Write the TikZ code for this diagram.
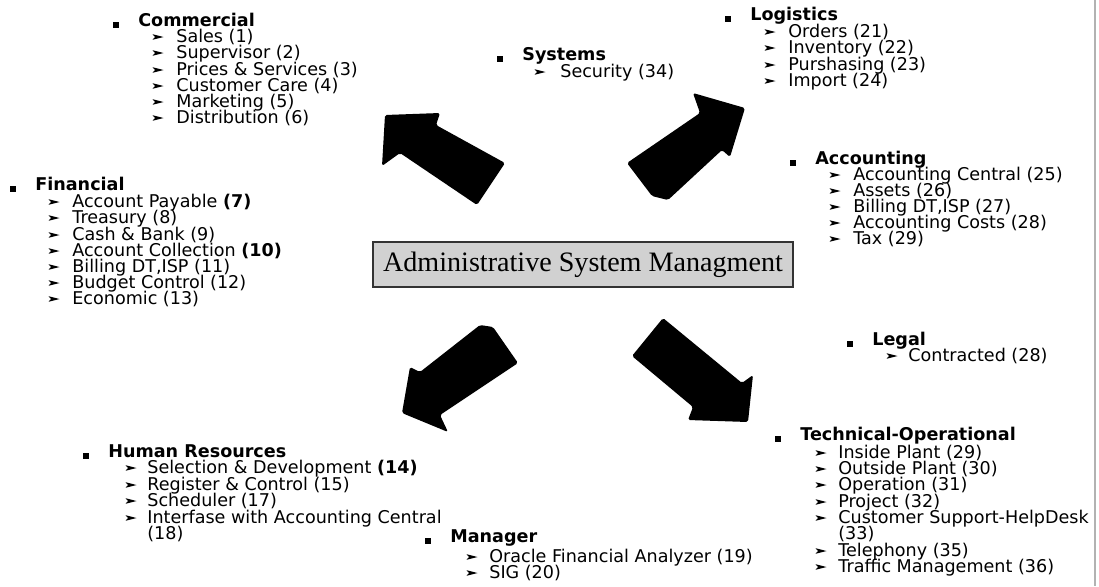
\documentclass[tikz,border=0pt]{standalone}
\usepackage{fontspec}
\setmainfont{DejaVu Sans}
\newfontfamily\titlefont{Liberation Serif}
\begin{document}
\begin{tikzpicture}[x=0.02cm,y=-0.02cm,
    hd/.style={anchor=west,inner sep=0pt,font=\bfseries,text height=7.8pt,text depth=1.6pt},
    it/.style={anchor=west,inner sep=0pt,text height=7.8pt,text depth=1.6pt},
    itemtip/.pic={\fill (-5.5,-2.8) -- (5.5,0) -- (-5.5,2.8) -- (-3,0) -- cycle;},
    bigarrow/.style={fill=black,rounded corners=1pt}]
\useasboundingbox (0,0) rectangle (1099,586);
\draw[gray!60,line width=0.6pt] (1095,0) -- (1095,586);
% centre
\node[draw=black!80,line width=1pt,fill=black!18,minimum width=8.4cm,minimum height=0.9cm,inner sep=0pt,
      font=\titlefont\fontsize{16}{19}\selectfont] (asm) at (583,264.5) {Administrative System Managment};
% the four block arrows
\fill[bigarrow] (385,115) -- (440,113) -- (436,125) -- (505,163) -- (477,205) -- (400,153) -- (382,166) -- cycle;
\fill[bigarrow] (693,93) -- (745,108) -- (730,157) -- (722,150) -- (668,200) -- (652,196) -- (627,163) -- (700,113) -- cycle;
\fill[bigarrow] (480,325) -- (493,327) -- (518,363) -- (440,415) -- (448,432) -- (402,413) -- (410,367) -- (420,372) -- cycle;
\fill[bigarrow] (663,318) -- (632,356) -- (693,407) -- (688,420) -- (748,422) -- (753,375) -- (742,383) -- cycle;
% Commercial
\node[hd] (com) at (138,21) {Commercial};
\foreach \y/\lbl [count=\i] in {37/Sales (1),53/Supervisor (2),70/Prices \& Services (3),
        86/Customer Care (4),102/Marketing (5),118/Distribution (6)}{
    \pic at (158,\y) {itemtip};
    \node[it] (com\i) at (176,\y) {\lbl};}
% Systems
\node[hd] (sys) at (522,55) {Systems};
\pic at (540,72) {itemtip};
\node[it] (sys1) at (560,72) {Security (34)};
% Logistics
\node[hd] (log) at (750,15) {Logistics};
\foreach \y/\lbl [count=\i] in {32/Orders (21),48/Inventory (22),65/Purshasing (23),81/Import (24)}{
    \pic at (770,\y) {itemtip};
    \node[it] (log\i) at (788,\y) {\lbl};}
% Accounting
\node[hd] (acc) at (815,159) {Accounting};
\foreach \y/\lbl [count=\i] in {175/Accounting Central (25),191/Assets (26),{207/Billing DT,ISP (27)},
        223/Accounting Costs (28),239/Tax (29)}{
    \pic at (835,\y) {itemtip};
    \node[it] (acc\i) at (853,\y) {\lbl};}
% Financial
\node[hd] (fin) at (35,185) {Financial};
\foreach \y/\lbl [count=\i] in {202/Account Payable \textbf{(7)},218/Treasury (8),235/Cash \& Bank (9),
        251/Account Collection \textbf{(10)},{267/Billing DT,ISP (11)},283/Budget Control (12),299/Economic (13)}{
    \pic at (54,\y) {itemtip};
    \node[it] (fin\i) at (72,\y) {\lbl};}
% Legal
\node[hd] (leg) at (872,340) {Legal};
\pic at (892,356) {itemtip};
\node[it] (leg1) at (908,356) {Contracted (28)};
% Technical-Operational
\node[hd] (tec) at (800,435) {Technical-Operational};
\foreach \y/\lbl [count=\i] in {453/Inside Plant (29),469/Outside Plant (30),485/Operation (31),502/Project (32),
        518/Customer Support-HelpDesk,551/Telephony (35),567/Traffic Management (36)}{
    \pic at (821,\y) {itemtip};
    \node[it] (tec\i) at (838,\y) {\lbl};}
\node[it] (tec5b) at (838,534) {(33)};
% Human Resources
\node[hd] (hum) at (108,452) {Human Resources};
\foreach \y/\lbl [count=\i] in {468/Selection \& Development \textbf{(14)},485/Register \& Control (15),
        501/Scheduler (17),518/Interfase with Accounting Central}{
    \pic at (131,\y) {itemtip};
    \node[it] (hum\i) at (147,\y) {\lbl};}
\node[it] (hum4b) at (147,534) {(18)};
% Manager
\node[hd] (man) at (450,537) {Manager};
\foreach \y/\lbl [count=\i] in {557/Oracle Financial Analyzer (19),573/SIG (20)}{
    \pic at (472,\y) {itemtip};
    \node[it] (man\i) at (489,\y) {\lbl};}
% square bullets
\foreach \n in {com,sys,log,acc,fin,leg,tec,hum,man}
    \fill ([shift={(-25,0.5)}]\n.west) rectangle +(6,6);
\end{tikzpicture}
\end{document}
